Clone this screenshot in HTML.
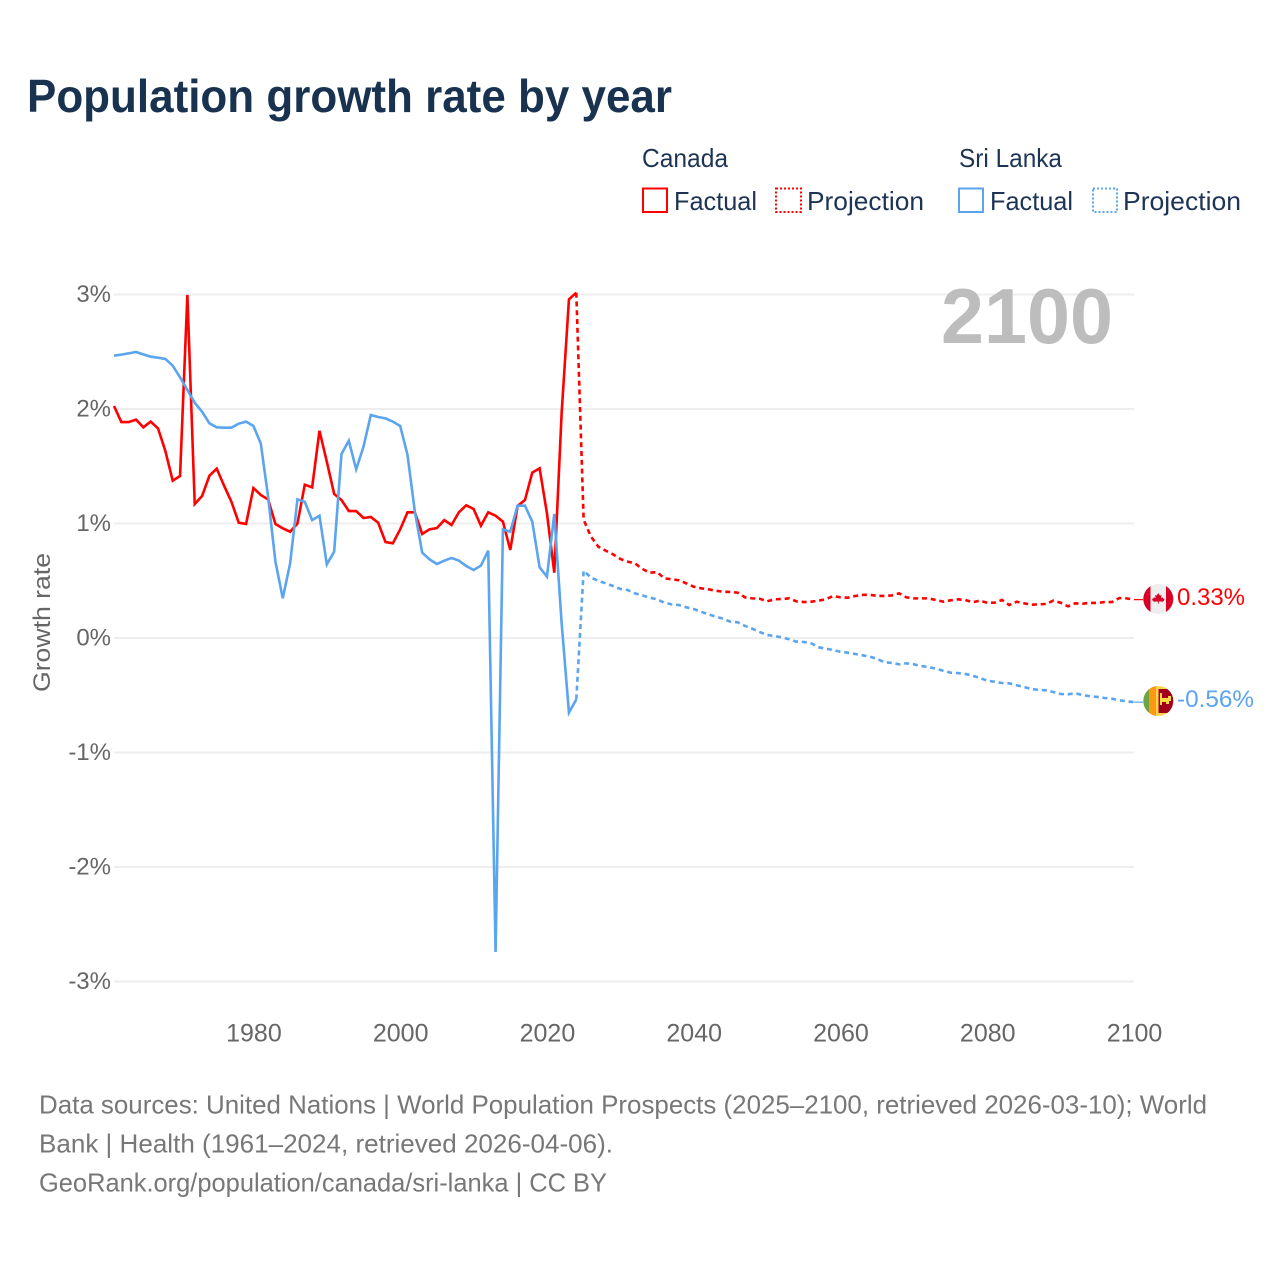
<!DOCTYPE html>
<html lang="en">
<head>
<meta charset="utf-8">
<title>Population growth rate by year</title>
<style>
html,body{margin:0;padding:0;background:#fff;}
svg{display:block;font-family:"Liberation Sans",sans-serif;}
</style>
</head>
<body>
<svg id="chart" xmlns="http://www.w3.org/2000/svg" width="1280" height="1280" viewBox="0 0 1280 1280">
  <defs>
    <clipPath id="clip-ca"><circle cx="1158.3" cy="599" r="15"/></clipPath>
    <clipPath id="clip-lk"><circle cx="1158.3" cy="701" r="15"/></clipPath>
  </defs>
  <rect width="1280" height="1280" fill="#fff"/>
  <text x="27" y="112" font-size="46" font-weight="700" fill="#18324f" textLength="645" lengthAdjust="spacingAndGlyphs">Population growth rate by year</text>

  <g font-size="26" fill="#1d3454">
    <text x="642" y="167" textLength="86" lengthAdjust="spacingAndGlyphs">Canada</text>
    <text x="959" y="167" textLength="103" lengthAdjust="spacingAndGlyphs">Sri Lanka</text>
    <rect x="643" y="188.5" width="24" height="23.5" fill="none" stroke="#ff0000" stroke-width="2"/>
    <text x="674" y="210" textLength="83" lengthAdjust="spacingAndGlyphs">Factual</text>
    <rect x="776" y="188.5" width="25" height="23.5" fill="none" stroke="#ff0000" stroke-width="2" stroke-dasharray="2 2"/>
    <text x="807" y="210" textLength="117" lengthAdjust="spacingAndGlyphs">Projection</text>
    <rect x="959" y="188.5" width="24" height="23.5" fill="none" stroke="#5ba4ee" stroke-width="2"/>
    <text x="990" y="210" textLength="83" lengthAdjust="spacingAndGlyphs">Factual</text>
    <rect x="1093" y="188.5" width="24" height="23.5" fill="none" stroke="#5ba4ee" stroke-width="2" stroke-dasharray="2 2"/>
    <text x="1123" y="210" textLength="118" lengthAdjust="spacingAndGlyphs">Projection</text>
  </g>

  <g id="grid"></g>
  <text x="941" y="343" font-size="78" font-weight="700" fill="#bdbdbd" textLength="172" lengthAdjust="spacingAndGlyphs">2100</text>
  <g id="y-ticks"></g>
  <g id="x-ticks"></g>
  <text transform="translate(50,622.5) rotate(-90)" text-anchor="middle" font-size="24" fill="#666" textLength="139" lengthAdjust="spacingAndGlyphs">Growth rate</text>
  <g id="series"></g>

  <g clip-path="url(#clip-ca)">
    <rect x="1143" y="584" width="31" height="30" fill="#eeeeee"/>
    <rect x="1143" y="584" width="7.5" height="30" fill="#d80027"/>
    <rect x="1166" y="584" width="8" height="30" fill="#d80027"/>
    <path d="M1158.3 593l1.6 2.6 1.6-.6-.5 3 1.8-.6 .6 1.4 1.2-.2-.6 2-1.4 1.2-2.7-.4-1.2.4v2h-.8v-2l-1.2-.4-2.7.4-1.4-1.2-.6-2 1.2.2 .6-1.4 1.8.6-.5-3 1.6.6z" fill="#d80027"/>
  </g>
  <g clip-path="url(#clip-lk)">
    <rect x="1143" y="686" width="31" height="30" fill="#ffd54f"/>
    <rect x="1143" y="686" width="6" height="30" fill="#6da544"/>
    <rect x="1149" y="686" width="7" height="30" fill="#ff9811"/>
    <rect x="1158.5" y="689" width="15" height="24" fill="#a2001d"/>
    <path d="M1160 693h2v5h6v-2h3v5h-2v3h-3v-2h-4v3h-2z" fill="#ffda44"/>
  </g>
  <text x="1177" y="605" font-size="24" fill="#ff0000" textLength="68" lengthAdjust="spacingAndGlyphs">0.33%</text>
  <text x="1177" y="707" font-size="24" fill="#5ba4ee" textLength="77" lengthAdjust="spacingAndGlyphs">-0.56%</text>

  <g font-size="26" fill="#777">
    <text x="39" y="1113.5" textLength="1168" lengthAdjust="spacingAndGlyphs">Data sources: United Nations | World Population Prospects (2025–2100, retrieved 2026-03-10); World</text>
    <text x="39" y="1152.5" textLength="574" lengthAdjust="spacingAndGlyphs">Bank | Health (1961–2024, retrieved 2026-04-06).</text>
    <text x="39" y="1191.5" textLength="568" lengthAdjust="spacingAndGlyphs">GeoRank.org/population/canada/sri-lanka | CC BY</text>
  </g>
</svg>
<script>
var factualStartYear = 1961;
var projectionStartYear = 2024;
var lastYear = 2100;
var yTickValues = [3, 2, 1, 0, -1, -2, -3];
var yTickLabels = ["3%", "2%", "1%", "0%", "-1%", "-2%", "-3%"];
var xTickValues = [1980, 2000, 2020, 2040, 2060, 2080, 2100];
var xTickLabels = ["1980", "2000", "2020", "2040", "2060", "2080", "2100"];
var canadaFactual = [2.026,1.886,1.886,1.907,1.84,1.89,1.83,1.633,1.374,1.415,2.996,1.17,1.24,1.417,1.479,1.33,1.19,1.007,0.996,1.31,1.249,1.211,0.996,0.958,0.928,1.0,1.339,1.316,1.81,1.54,1.258,1.205,1.109,1.109,1.048,1.057,1.007,0.838,0.827,0.949,1.098,1.098,0.908,0.949,0.96,1.03,0.987,1.098,1.159,1.127,0.981,1.098,1.068,1.016,0.769,1.153,1.205,1.444,1.482,1.089,0.57,1.965,2.958,3.016];
var canadaProjection = [3.016,1.033,0.885,0.798,0.763,0.731,0.69,0.667,0.652,0.603,0.57,0.576,0.521,0.513,0.504,0.477,0.448,0.434,0.425,0.413,0.404,0.402,0.396,0.355,0.346,0.343,0.32,0.338,0.34,0.346,0.32,0.314,0.317,0.326,0.338,0.367,0.355,0.352,0.367,0.376,0.378,0.367,0.367,0.372,0.39,0.355,0.346,0.346,0.346,0.332,0.317,0.329,0.338,0.332,0.312,0.326,0.308,0.308,0.332,0.288,0.317,0.303,0.291,0.294,0.297,0.326,0.308,0.277,0.303,0.3,0.306,0.306,0.314,0.314,0.349,0.346,0.335];
var sriLankaFactual = [2.466,2.475,2.486,2.498,2.477,2.457,2.448,2.437,2.378,2.277,2.166,2.055,1.977,1.875,1.84,1.837,1.837,1.872,1.89,1.852,1.7,1.234,0.666,0.347,0.652,1.211,1.19,1.03,1.068,0.643,0.754,1.607,1.723,1.473,1.671,1.948,1.93,1.918,1.89,1.852,1.598,1.103,0.745,0.687,0.646,0.675,0.699,0.675,0.629,0.594,0.632,0.763,-2.742,0.949,0.928,1.156,1.156,1.016,0.617,0.536,1.083,0.13,-0.652,-0.536];
var sriLankaProjection = [-0.536,0.588,0.527,0.5,0.477,0.454,0.428,0.419,0.39,0.372,0.352,0.338,0.308,0.294,0.288,0.268,0.253,0.23,0.207,0.186,0.169,0.142,0.137,0.105,0.081,0.052,0.026,0.017,0.006,-0.011,-0.032,-0.035,-0.046,-0.081,-0.093,-0.105,-0.12,-0.128,-0.14,-0.151,-0.163,-0.183,-0.212,-0.218,-0.23,-0.221,-0.23,-0.245,-0.253,-0.268,-0.286,-0.303,-0.306,-0.314,-0.329,-0.349,-0.373,-0.382,-0.393,-0.396,-0.413,-0.428,-0.445,-0.454,-0.457,-0.472,-0.489,-0.492,-0.483,-0.498,-0.509,-0.515,-0.524,-0.53,-0.544,-0.553,-0.56];

var NS = "http://www.w3.org/2000/svg";
function xScale(year) { return 114 + (year - factualStartYear) * (1134 - 114) / (lastYear - factualStartYear); }
function yScale(v) { return 638 - v * 114.5; }
function linePath(values, startYear) {
  return values.map(function (v, i) {
    return (i ? "L" : "M") + xScale(startYear + i).toFixed(2) + " " + yScale(v).toFixed(2);
  }).join("");
}
var gridGroup = document.getElementById("grid");
var yGroup = document.getElementById("y-ticks");
var xGroup = document.getElementById("x-ticks");
var seriesGroup = document.getElementById("series");

yTickValues.forEach(function (v, i) {
  var g = document.createElementNS(NS, "line");
  
  
  g.setAttribute("x1", 114);
  g.setAttribute("x2", 1134);
  g.setAttribute("y1", yScale(v));
  g.setAttribute("y2", yScale(v));
  g.setAttribute("stroke", "#eeeeee");
  g.setAttribute("stroke-width", 2);
  gridGroup.appendChild(g);
  var t = document.createElementNS(NS, "text");
  
  
  t.setAttribute("x", 111);
  t.setAttribute("y", yScale(v) + 7.5);
  t.setAttribute("text-anchor", "end");
  t.setAttribute("font-size", 24);
  t.setAttribute("fill", "#666");
  t.textContent = yTickLabels[i];
  yGroup.appendChild(t);
});
xTickValues.forEach(function (year, i) {
  var t = document.createElementNS(NS, "text");
  
  
  t.setAttribute("x", xScale(year) + 0.5);
  t.setAttribute("y", 1041.5);
  t.setAttribute("text-anchor", "middle");
  t.setAttribute("font-size", 25);
  t.setAttribute("fill", "#666");
  t.textContent = xTickLabels[i];
  xGroup.appendChild(t);
});
function styleLine(p, color, dashed, d) {
  p.setAttribute("d", d);
  p.setAttribute("fill", "none");
  p.setAttribute("stroke", color);
  p.setAttribute("stroke-width", 2.6);
  p.setAttribute("stroke-linejoin", "miter");
  if (dashed) { p.setAttribute("stroke-dasharray", "5 3.8"); }
  seriesGroup.appendChild(p);
}
var p1 = document.createElementNS(NS, "path");


styleLine(p1, "#ff0000", false, linePath(canadaFactual, factualStartYear));
var p2 = document.createElementNS(NS, "path");


styleLine(p2, "#ff0000", true, linePath(canadaProjection, projectionStartYear));
var p3 = document.createElementNS(NS, "path");


styleLine(p3, "#5ba4ee", false, linePath(sriLankaFactual, factualStartYear));
var p4 = document.createElementNS(NS, "path");


styleLine(p4, "#5ba4ee", true, linePath(sriLankaProjection, projectionStartYear));

var c1 = document.createElementNS(NS, "line");


c1.setAttribute("x1", xScale(lastYear));
c1.setAttribute("x2", 1143);
c1.setAttribute("y1", yScale(canadaProjection[canadaProjection.length - 1]));
c1.setAttribute("y2", yScale(canadaProjection[canadaProjection.length - 1]));
c1.setAttribute("stroke", "#ff0000");
c1.setAttribute("stroke-width", 1.2);
seriesGroup.appendChild(c1);
var c2 = document.createElementNS(NS, "line");


c2.setAttribute("x1", xScale(lastYear));
c2.setAttribute("x2", 1143);
c2.setAttribute("y1", yScale(sriLankaProjection[sriLankaProjection.length - 1]));
c2.setAttribute("y2", yScale(sriLankaProjection[sriLankaProjection.length - 1]));
c2.setAttribute("stroke", "#5ba4ee");
c2.setAttribute("stroke-width", 1.2);
seriesGroup.appendChild(c2);
</script>
</body>
</html>
